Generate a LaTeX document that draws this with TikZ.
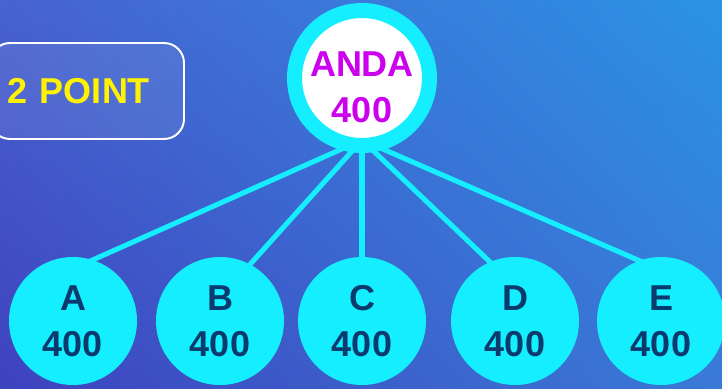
\documentclass[tikz,border=0pt]{standalone}
\usepackage{fontspec}
\setmainfont{Liberation Sans}
\usetikzlibrary{shadings}
\definecolor{fondBG}{RGB}{62,66,190}
\definecolor{fondHG}{RGB}{72,98,208}
\definecolor{fondHD}{RGB}{42,147,228}
\definecolor{fondBD}{RGB}{58,122,214}
\definecolor{cyanvif}{RGB}{20,238,255}
\definecolor{bleunuit}{RGB}{10,58,110}
\definecolor{magentavif}{RGB}{204,0,238}
\begin{document}
\begin{tikzpicture}[line join=bevel,
	gros/.style={font=\bfseries\fontsize{25.6}{32.7}\selectfont,align=center},
	feuille/.style={gros,circle,fill=cyanvif,minimum size=3.2cm,inner sep=0pt,text=bleunuit},
	tete/.style={circle,draw=cyanvif,line width=0.375cm,fill=white,minimum size=3.375cm,inner sep=0pt},
	cadre/.style={gros,draw=white,line width=1.4pt,rounded corners=0.5cm,fill=white,fill opacity=0.08,text opacity=1,text=yellow,minimum height=2.4cm,text width=3.95cm,inner xsep=0.45cm,align=left},
	branche/.style={draw=cyanvif,line width=3.6pt,shorten >=-4pt}]
	\useasboundingbox (0,0) rectangle (18.05,9.7);
	\clip (0,0) rectangle (18.05,9.7);
	\shade[upper left=fondHG,upper right=fondHD,lower left=fondBG,lower right=fondBD] (0,0) rectangle (18.05,9.7) ;%fond
	\node[cadre] (pts) at (2.175,7.425) {2 POINT} ;
	\foreach \Coord/\Nom in {(1.825,1.675)/A,(5.5,1.675)/B,(9.05,1.675)/C,(12.875,1.675)/D,(16.525,1.675)/E}
		\node[feuille] (\Nom) at \Coord {\Nom\\400} ;
	\coordinate (hub) at (9.05,6.2) ;
	\foreach \Nom/\Ang in {A/72,B/62,C/90,D/113,E/110}
		\draw[branche] (hub) -- (\Nom.\Ang) ;
	\node[tete] (anda) at (9.05,7.75) {} ;
	\node[gros,text=magentavif] (andatxt) at ([yshift=-0.225cm]anda.center) {ANDA\\400} ;
\end{tikzpicture}
\end{document}
